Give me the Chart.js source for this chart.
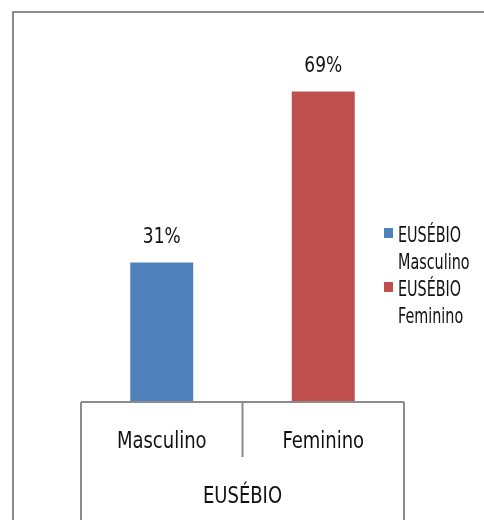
<!DOCTYPE html>
<html>
<head>
<meta charset="utf-8">
<script src="https://cdn.jsdelivr.net/npm/chart.js@4"></script>
<style>
  html, body { margin: 0; padding: 0; background: #fff; }
  #wrap { width: 484px; height: 520px; }
</style>
</head>
<body>
<div id="wrap"><canvas id="genderChart" width="484" height="520"></canvas></div>
<script>
// values
var categories = ["Masculino", "Feminino"];
var groupLabel = "EUSÉBIO";
var seriesNames = [["EUSÉBIO", "Masculino"], ["EUSÉBIO", "Feminino"]];
var masculino = [31, null];
var feminino = [null, 69];
var colors = ["#4F81BD", "#C0504D"];

var FONT = "'Liberation Sans Narrow', 'DejaVu Sans Condensed', 'Arial Narrow', sans-serif";
var lineGrey = "#8c8c8c";

// draw text squeezed horizontally (the original uses a narrow font)
function fillNarrow(ctx, text, x, y, sx, align) {
    ctx.save();
    ctx.translate(x, y);
    ctx.scale(sx, 1);
    ctx.textAlign = align || "center";
    ctx.fillText(text, 0, 0);
    ctx.restore();
}

var excelLook = {
    id: 'excelLook',
    beforeDraw: function (chart) {
        var ctx = chart.ctx;
        ctx.save();
        // outer frame (cropped on right/bottom)
        ctx.strokeStyle = lineGrey;
        ctx.lineWidth = 2;
        ctx.beginPath();
        ctx.moveTo(13, 530);
        ctx.lineTo(13, 12);
        ctx.lineTo(500, 12);
        ctx.stroke();
        ctx.restore();
    },
    afterDraw: function (chart) {
        var ctx = chart.ctx;
        var area = chart.chartArea;
        var xs = chart.scales.x;
        var bottom = area.bottom;
        ctx.save();

        // category axis + multi level dividers
        ctx.strokeStyle = lineGrey;
        ctx.lineWidth = 2;
        ctx.beginPath();
        ctx.moveTo(area.left, bottom);
        ctx.lineTo(area.right, bottom);
        ctx.moveTo(area.left, bottom);
        ctx.lineTo(area.left, 530);
        ctx.moveTo(area.right, bottom);
        ctx.lineTo(area.right, 530);
        var mid = (xs.getPixelForValue(0) + xs.getPixelForValue(1)) / 2;
        ctx.moveTo(mid, bottom);
        ctx.lineTo(mid, bottom + 55);
        ctx.stroke();

        ctx.fillStyle = "#111";
        ctx.textBaseline = "alphabetic";
        ctx.font = "23px " + FONT;
        categories.forEach(function (c, i) {
            fillNarrow(ctx, c, xs.getPixelForValue(i), bottom + 46, 0.87);
        });
        fillNarrow(ctx, groupLabel, (area.left + area.right) / 2, bottom + 101, 0.87);

        // value labels above bars
        ctx.font = "21px " + FONT;
        chart.data.datasets.forEach(function (ds, di) {
            var meta = chart.getDatasetMeta(di);
            meta.data.forEach(function (bar, i) {
                if (ds.data[i] == null) return;
                fillNarrow(ctx, ds.data[i] + "%", bar.x, bar.y - 20, 0.9);
            });
        });

        // legend
        ctx.font = "21px " + FONT;
        chart.data.datasets.forEach(function (ds, di) {
            var top = 242 + di * 54;
            ctx.fillStyle = ds.backgroundColor;
            ctx.fillRect(384, top - 14, 9, 10);
            ctx.fillStyle = "#111";
            seriesNames[di].forEach(function (line, li) {
                fillNarrow(ctx, line, 398, top + li * 27, 0.76, "left");
            });
        });
        ctx.restore();
    }
};

var ctx = document.getElementById("genderChart").getContext('2d');
var myChart = new Chart(ctx, {
    type: 'bar',
    data: {
        labels: categories,
        datasets: [{
            label: seriesNames[0].join(" "),
            data: masculino,
            backgroundColor: colors[0]
        }, {
            label: seriesNames[1].join(" "),
            data: feminino,
            backgroundColor: colors[1]
        }]
    },
    options: {
        responsive: false,
        animation: false,
        skipNull: true,
        categoryPercentage: 1,
        barPercentage: 0.39,
        layout: {
            padding: { left: 81, right: 80, top: 42, bottom: 118 }
        },
        plugins: {
            legend: { display: false },
            tooltip: { enabled: false }
        },
        scales: {
            x: { display: false },
            y: { display: false, min: 0, max: 80 }
        }
    },
    plugins: [excelLook]
});
</script>
</body>
</html>
